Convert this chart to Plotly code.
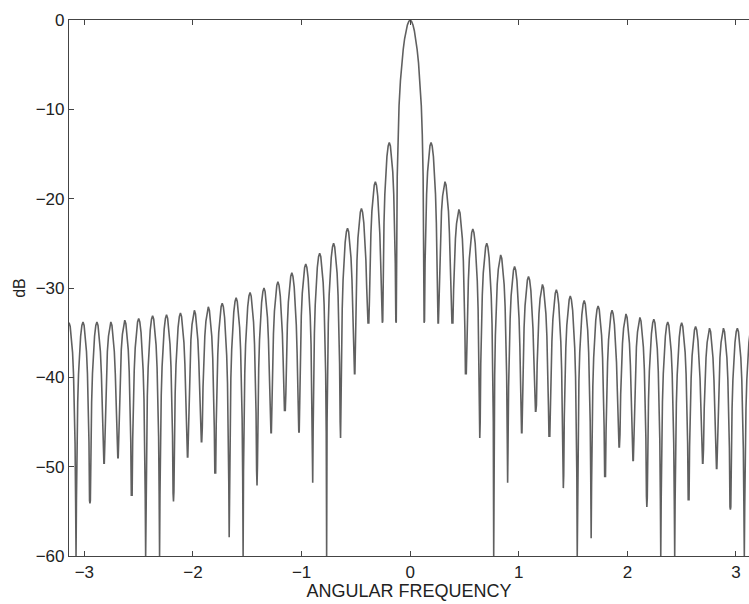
import plotly.graph_objects as go

# ---- data ----
null_spacing = 0.1282          # rad between adjacent nulls

# main lobe: offset from centre (in null spacings) and level (dB)
main_u = [0.0, 0.1, 0.2, 0.3, 0.4, 0.5, 0.6, 0.7, 0.8, 0.87, 0.93]
main_db = [0.0, -0.15, -0.55, -1.2, -2.1, -3.3, -4.8, -6.8, -9.6, -12.8, -17.5]

# side-lobe shape: fraction of lobe width from a null, drop below the lobe peak (dB)
side_f = [0.03, 0.07, 0.12, 0.18, 0.25, 0.33, 0.42, 0.5]
side_drop = [-20.0, -13.5, -9.0, -5.8, -3.3, -1.6, -0.4, 0.0]

# side-lobe peaks (dB), from the centre outwards; the last one is the half lobe at the edge
left_peak_db = [-13.7, -18.1, -21.1, -23.3, -25.0, -26.1, -27.3, -28.3, -29.3, -30.0,
                -30.5, -31.1, -31.7, -32.1, -32.5, -32.8, -33.0, -33.1, -33.4, -33.6,
                -33.8, -33.8, -33.8, -33.9]
right_peak_db = [-13.7, -18.1, -21.2, -23.4, -25.0, -26.3, -27.6, -28.7, -29.6, -30.2,
                 -30.9, -31.4, -32.0, -32.5, -32.9, -33.3, -33.5, -33.8, -33.9, -34.3,
                 -34.5, -34.5, -34.5, -34.5]

# null depths (dB), null 1 .. 24 from the centre outwards
left_null_db = [-33.9, -33.9, -33.9, -39.6, -46.8, -60.0, -51.8, -46.1, -43.7, -46.2,
                -52.1, -60.0, -57.9, -50.7, -47.2, -48.9, -53.9, -60.0, -60.0, -53.2,
                -49.0, -49.6, -54.1, -60.0]
right_null_db = [-33.9, -33.9, -33.9, -39.6, -46.8, -60.0, -51.8, -46.2, -43.8, -46.6,
                 -52.4, -60.0, -58.0, -51.1, -47.8, -49.3, -54.5, -60.0, -60.0, -53.7,
                 -49.6, -50.2, -54.8, -60.0]

x_ticks = [-3, -2, -1, 0, 1, 2, 3]
y_ticks = [-60, -50, -40, -30, -20, -10, 0]


def lobe(a, b, peak, na, nb):
    xs, ys = [a], [na]
    for f, dr in zip(side_f, side_drop):
        xs.append(a + f * (b - a))
        ys.append(max(peak + dr, na))
    for f, dr in zip(reversed(side_f[:-1]), reversed(side_drop[:-1])):
        xs.append(b - f * (b - a))
        ys.append(max(peak + dr, nb))
    xs.append(b)
    ys.append(nb)
    return xs, ys


X, Y = [], []
n = len(left_peak_db)
# left side lobes, outermost first
for k in range(n, 0, -1):
    outer = left_null_db[k] if k < len(left_null_db) else left_null_db[-1]
    xs, ys = lobe(-(k + 1) * null_spacing, -k * null_spacing,
                  left_peak_db[k - 1], outer, left_null_db[k - 1])
    X += xs[:-1]
    Y += ys[:-1]
# main lobe
X.append(-null_spacing)
Y.append(left_null_db[0])
for u, v in zip(reversed(main_u), reversed(main_db)):
    X.append(-u * null_spacing)
    Y.append(v)
for u, v in zip(main_u[1:], main_db[1:]):
    X.append(u * null_spacing)
    Y.append(v)
# right side lobes
for k in range(1, n + 1):
    outer = right_null_db[k] if k < len(right_null_db) else right_null_db[-1]
    xs, ys = lobe(k * null_spacing, (k + 1) * null_spacing,
                  right_peak_db[k - 1], right_null_db[k - 1], outer)
    X += xs
    Y += ys

fig = go.Figure()
fig.add_trace(go.Scatter(x=X, y=Y, mode="lines",
                         line=dict(color="#606060", width=1.6),
                         showlegend=False, hoverinfo="skip"))

font = "Liberation Sans, Arial, sans-serif"
fig.update_layout(
    width=749, height=604,
    margin=dict(l=69, r=0, t=20, b=48),
    paper_bgcolor="white", plot_bgcolor="white",
    font=dict(family=font, size=17, color="#222222"),
    xaxis=dict(range=[-3.1416, 3.12], tickvals=x_ticks,
               ticktext=[str(v) if v >= 0 else "\u2212" + str(-v) for v in x_ticks],
               ticks="inside", ticklen=5, tickcolor="#444", showgrid=False, zeroline=False,
               showline=True, linecolor="#444", linewidth=1.2, mirror="ticks",
               title=dict(text="ANGULAR FREQUENCY", font=dict(size=18), standoff=3)),
    yaxis=dict(range=[-60, 0], tickvals=y_ticks,
               ticks="inside", ticklen=5, tickcolor="#444", showgrid=False, zeroline=False,
               showline=True, linecolor="#444", linewidth=1.2,
               title=dict(text="dB", font=dict(size=16), standoff=6)),
)

fig.write_html("out.html")
